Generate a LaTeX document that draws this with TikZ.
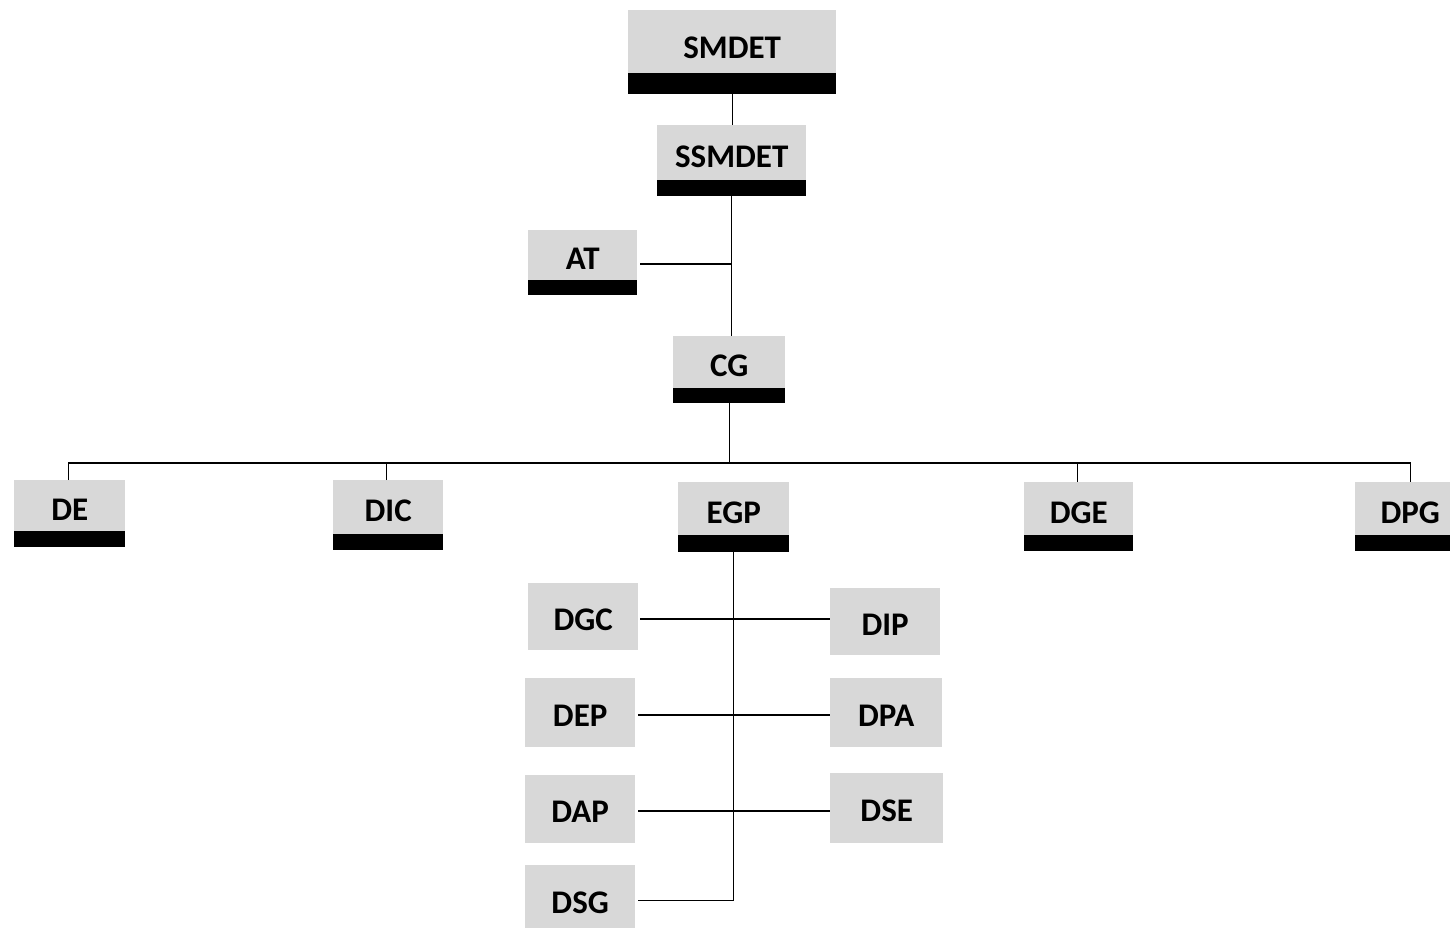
\documentclass[tikz,border=0pt]{standalone}
\usepackage{fontspec}
\setmainfont{Carlito}
\definecolor{boxgray}{RGB}{216,216,216}
\begin{document}
\begin{tikzpicture}[x=1pt,y=-1pt,
  box/.style={fill=boxgray, inner sep=0pt, anchor=north west,
    font=\fontsize{33}{33}\selectfont\bfseries, text=black},
  barred/.style={box, text height=21pt, text depth=8pt, path picture={\fill[black] (path picture bounding box.south west) rectangle ([yshift=#1]path picture bounding box.south east);}},
  plain/.style={box, text height=27pt, text depth=0pt},
  link/.style={draw=black, line width=1.4pt}]
\useasboundingbox[fill=white] (0,0) rectangle (1450,928);
% barred units
\node[barred=21pt, minimum width=208pt, minimum height=84pt] (smdet) at (628,10) {SMDET};
\node[barred=16pt, minimum width=149pt, minimum height=71pt] (ssmdet) at (657,125) {SSMDET};
\node[barred=15pt, minimum width=109pt, minimum height=65pt] (at) at (528,230) {AT};
\node[barred=15pt, minimum width=112pt, minimum height=67pt] (cg) at (673,336) {CG};
\node[barred=16pt, minimum width=111pt, minimum height=67pt] (de) at (14,480) {DE};
\node[barred=16pt, minimum width=110pt, minimum height=70pt] (dic) at (333,480) {DIC};
\node[barred=17pt, minimum width=111pt, minimum height=70pt] (egp) at (678,482) {EGP};
\node[barred=16pt, minimum width=109pt, minimum height=69pt] (dge) at (1024,482) {DGE};
\node[barred=16pt, minimum width=110pt, minimum height=69pt] (dpg) at (1355,482) {DPG};
% plain units
\node[plain, minimum width=110pt, minimum height=67pt] (dgc) at (528,583) {DGC};
\node[plain, minimum width=110pt, minimum height=67pt] (dip) at (830,588) {DIP};
\node[plain, minimum width=110pt, minimum height=69pt] (dep) at (525,678) {DEP};
\node[plain, minimum width=112pt, minimum height=69pt] (dpa) at (830,678) {DPA};
\node[plain, minimum width=110pt, minimum height=68pt] (dap) at (525,775) {DAP};
\node[plain, minimum width=113pt, minimum height=70pt] (dse) at (830,773) {DSE};
\node[plain, minimum width=110pt, minimum height=70pt] (dsg) at (525,865) {DSG};
% connectors
\coordinate (bus) at (731,463);
\coordinate (atj) at (731,264);
\draw[link] (smdet.south) -- (smdet.south |- ssmdet.north);
\draw[link] (ssmdet.south) -- (ssmdet.south |- cg.north);
\draw[link] ([xshift=3pt]at.east |- atj) -- (atj);
\draw[link] (cg.south) -- (cg.south |- bus);
\draw[link] ([xshift=-1.5pt]de.north) -- ([xshift=-1.5pt]de.north |- bus) -- (dpg.north |- bus) -- (dpg.north);
\draw[link] ([xshift=-2pt]dic.north) -- ([xshift=-2pt]dic.north |- bus);
\draw[link] ([xshift=-1.5pt]dge.north) -- ([xshift=-1.5pt]dge.north |- bus);
\draw[link] (egp.south) -- (egp.south |- dsg.east) -- ([xshift=3pt]dsg.east);
\coordinate (r1) at (733,619);
\coordinate (r2) at (733,715);
\coordinate (r3) at (733,811);
\draw[link] ([xshift=2pt]dgc.east |- r1) -- (dip.west |- r1);
\draw[link] ([xshift=3pt]dep.east |- r2) -- (dpa.west |- r2);
\draw[link] ([xshift=3pt]dap.east |- r3) -- (dse.west |- r3);
\end{tikzpicture}
\end{document}
